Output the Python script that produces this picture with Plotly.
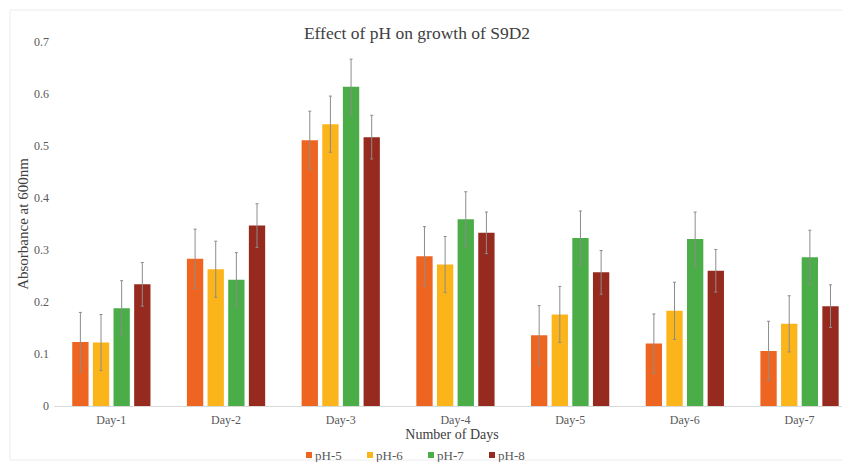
import plotly.graph_objects as go

days = ["Day-1", "Day-2", "Day-3", "Day-4", "Day-5", "Day-6", "Day-7"]
series_names = ["pH-5", "pH-6", "pH-7", "pH-8"]
colors = ["#EE6522", "#FBB41A", "#4AAD48", "#962A1E"]

ph5 = [0.123, 0.283, 0.511, 0.288, 0.136, 0.120, 0.106]
ph6 = [0.122, 0.263, 0.542, 0.272, 0.176, 0.183, 0.158]
ph7 = [0.188, 0.243, 0.614, 0.359, 0.323, 0.321, 0.286]
ph8 = [0.234, 0.347, 0.517, 0.333, 0.257, 0.260, 0.192]

err5 = [0.057, 0.057, 0.056, 0.057, 0.057, 0.057, 0.057]
err6 = [0.054, 0.054, 0.054, 0.054, 0.054, 0.055, 0.054]
err7 = [0.053, 0.052, 0.053, 0.053, 0.052, 0.052, 0.052]
err8 = [0.042, 0.042, 0.042, 0.040, 0.042, 0.041, 0.041]

yticks = [0, 0.1, 0.2, 0.3, 0.4, 0.5, 0.6, 0.7]
ytick_text = ["0", "0.1", "0.2", "0.3", "0.4", "0.5", "0.6", "0.7"]

values = [ph5, ph6, ph7, ph8]
errors = [err5, err6, err7, err8]

FONT = "Liberation Serif, Times New Roman, serif"

# the page body has an 8px margin, so the figure is drawn 8px in from the top-left
OFF = 8
W, H = 850 - OFF, 462 - OFF
L, R, T, B = 46, 0, 34, 56
PW, PH = W - L - R, H - T - B


def px_to_paper_x(px):
    return (px - OFF - L) / PW


def px_to_paper_y(py):
    return (H - B - (py - OFF)) / PH


fig = go.Figure()
for name, vals, errs, col in zip(series_names, values, errors, colors):
    fig.add_trace(go.Bar(
        x=days, y=vals, name=name, showlegend=False,
        marker=dict(color=col, line=dict(width=0)),
        error_y=dict(type="data", array=errs, visible=True,
                     color="#8c8c8c", thickness=1, width=1.5),
    ))

# custom legend (small squares close to text, as in the reference)
shapes = [dict(type="rect", xref="paper", yref="paper",
               x0=px_to_paper_x(10), x1=px_to_paper_x(849),
               y0=px_to_paper_y(460), y1=px_to_paper_y(10),
               line=dict(color="#ececec", width=1))]
annotations = []
for i, (name, col) in enumerate(zip(series_names, colors)):
    x0 = 306 + i * 61
    shapes.append(dict(type="rect", xref="paper", yref="paper",
                       x0=px_to_paper_x(x0), x1=px_to_paper_x(x0 + 6),
                       y0=px_to_paper_y(458), y1=px_to_paper_y(452),
                       fillcolor=col, line=dict(width=0)))
    annotations.append(dict(text=name, xref="paper", yref="paper",
                            x=px_to_paper_x(x0 + 7), xanchor="left",
                            y=px_to_paper_y(455), yanchor="middle",
                            showarrow=False,
                            font=dict(family=FONT, size=13, color="#595959")))

fig.update_layout(
    width=W, height=H,
    paper_bgcolor="white", plot_bgcolor="white",
    margin=dict(l=L, r=R, t=T, b=B),
    barmode="group", bargap=0.28, bargroupgap=0.21,
    font=dict(family=FONT, color="#595959", size=12),
    title=dict(text="Effect of pH on growth of S9D2", x=(417 - OFF) / W,
               xanchor="center", y=1 - (33 - OFF) / H, yanchor="middle",
               font=dict(family=FONT, size=17.5, color="#404040")),
    xaxis=dict(range=[-0.5, 6.44], showgrid=False, showline=True,
               linecolor="#d9d9d9", linewidth=1, ticks="",
               automargin=False, ticklabelstandoff=3,
               tickfont=dict(size=12, color="#595959"),
               title=dict(text="Number of Days", standoff=2,
                          font=dict(size=14, color="#404040"))),
    yaxis=dict(range=[0, 0.7], tickvals=yticks, ticktext=ytick_text,
               showgrid=False, zeroline=False, showline=False, ticks="",
               automargin=False, ticklabelstandoff=4,
               tickfont=dict(size=12, color="#595959"),
               title=dict(text="Absorbance at 600nm", standoff=1,
                          font=dict(size=15, color="#404040"))),
    shapes=shapes,
    annotations=annotations,
)

fig.write_html("out.html")
